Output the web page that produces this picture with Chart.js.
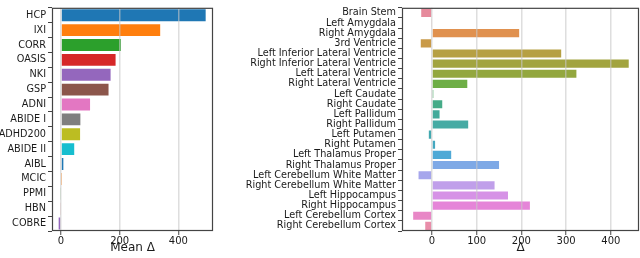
<!DOCTYPE html>
<html>
<head>
<meta charset="utf-8">
<script src="https://cdn.jsdelivr.net/npm/chart.js@4/dist/chart.umd.min.js"></script>
<style>
  html, body { margin: 0; padding: 0; background: #fff; }
  #wrapLeft { position: absolute; left: 0; top: 0; width: 216px; height: 258px; }
  #wrapRight { position: absolute; left: 220px; top: 0; width: 420px; height: 258px; }
</style>
</head>
<body>
<div id="wrapLeft"><canvas id="datasetChart"></canvas></div>
<div id="wrapRight"><canvas id="regionChart"></canvas></div>
<script>
// ---- data ----
const datasetNames = ['HCP', 'IXI', 'CORR', 'OASIS', 'NKI', 'GSP', 'ADNI', 'ABIDE I', 'ADHD200',
  'ABIDE II', 'AIBL', 'MCIC', 'PPMI', 'HBN', 'COBRE'];
const datasetDelta = [493, 338, 204, 186, 169, 162, 99, 66, 65, 45, 8, 1, -2, -3, -8];
const datasetTicks = [0, 200, 400];

const regionNames = ['Brain Stem', 'Left Amygdala', 'Right Amygdala', '3rd Ventricle',
  'Left Inferior Lateral Ventricle', 'Right Inferior Lateral Ventricle', 'Left Lateral Ventricle',
  'Right Lateral Ventricle', 'Left Caudate', 'Right Caudate', 'Left Pallidum', 'Right Pallidum',
  'Left Putamen', 'Right Putamen', 'Left Thalamus Proper', 'Right Thalamus Proper',
  'Left Cerebellum White Matter', 'Right Cerebellum White Matter', 'Left Hippocampus',
  'Right Hippocampus', 'Left Cerebellum Cortex', 'Right Cerebellum Cortex'];
const regionDelta = [-24, -2, 195, -25, 289, 440, 323, 79, 3, 23, 17, 81, -7, 7, 43, 150,
  -30, 140, 170, 219, -42, -15];
const regionTicks = [0, 100, 200, 300, 400];

// ---- styles ----
const tab10 = ['#1f77b4', '#ff7f0e', '#2ca02c', '#d62728', '#9467bd', '#8c564b', '#e377c2',
  '#7f7f7f', '#bcbd22', '#17becf'];
const datasetColors = datasetNames.map((_, i) => tab10[i % 10]);
const regionColors = ['#e68a9c', '#e69a8c', '#e0914f', '#c99a48', '#b6a043', '#a2a43f', '#93a73f',
  '#6eae46', '#4fae6c', '#46ab88', '#43aa9a', '#46aba4', '#43a9b0', '#44a8c0', '#4fa9d6',
  '#7ea9e6', '#a6a6ec', '#c09fea', '#d692e6', '#e585d8', '#e887c6', '#e98da9'];

const FONT = 'DejaVu Sans';
const TEXT = '#1a1a1a';
const FRAME = '#444';

// draw the full box round the plot area
const framePlugin = {
  id: 'frame',
  afterDraw(chart) {
    const a = chart.chartArea;
    const ctx = chart.ctx;
    ctx.save();
    ctx.strokeStyle = FRAME;
    ctx.lineWidth = 1.2;
    ctx.strokeRect(a.left + 0.5, a.top + 0.5, a.right - a.left - 1, a.bottom - a.top - 1);
    ctx.restore();
  }
};

function makeChart(id, names, values, colors, xMin, xMax, tickVals, yWidth, padRight, title) {
  return new Chart(document.getElementById(id), {
    type: 'bar',
    data: {
      labels: names,
      datasets: [{
        data: values,
        backgroundColor: colors,
        borderWidth: 0,
        categoryPercentage: 0.8,
        barPercentage: 1.0
      }]
    },
    options: {
      indexAxis: 'y',
      responsive: true,
      maintainAspectRatio: false,
      animation: false,
      layout: { padding: { top: 1, right: padRight, left: 0, bottom: 0 } },
      plugins: { legend: { display: false }, tooltip: { enabled: false } },
      scales: {
        x: {
          min: xMin,
          max: xMax,
          afterBuildTicks: s => { s.ticks = tickVals.map(v => ({ value: v })); },
          afterFit: s => { s.height = 27; },
          border: { display: false },
          grid: {
            color: 'rgba(200,200,200,0.6)',
            lineWidth: 1.5,
            z: 1,
            tickColor: FRAME,
            tickLength: 4,
            tickWidth: 1
          },
          ticks: { color: TEXT, padding: 0, font: { family: FONT, size: 10 } },
          title: {
            display: true,
            text: title,
            color: TEXT,
            padding: { top: 0, bottom: 3 },
            font: { family: FONT, size: 12 }
          }
        },
        y: {
          afterFit: s => { s.width = yWidth; },
          border: { display: false },
          grid: {
            drawOnChartArea: false,
            tickColor: FRAME,
            tickLength: 4,
            tickWidth: 1
          },
          ticks: { color: TEXT, padding: 2, autoSkip: false, font: { family: FONT, size: 9.7 } }
        }
      }
    },
    plugins: [framePlugin]
  });
}

makeChart('datasetChart', datasetNames, datasetDelta, datasetColors, -30.7, 518, datasetTicks, 52, 3, 'Mean Δ');
makeChart('regionChart', regionNames, regionDelta, regionColors, -67, 463, regionTicks, 182, 1, 'Δ');
</script>
</body>
</html>
